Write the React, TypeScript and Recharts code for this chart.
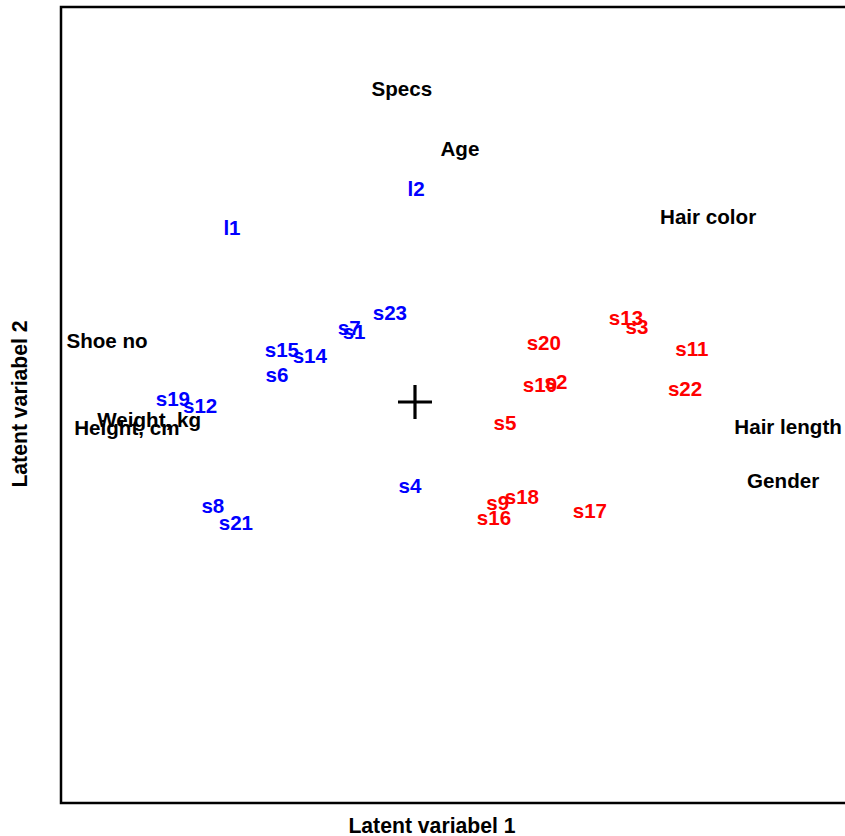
import { ScatterChart, Scatter, XAxis, YAxis, ReferenceArea, Label } from 'recharts';

// loadings of the variables (black)
const variables = [
  { name: 'Specs', x: -0.037, y: 0.792 },
  { name: 'Age', x: 0.127, y: 0.641 },
  { name: 'Hair color', x: 0.828, y: 0.468 },
  { name: 'Shoe no', x: -0.870, y: 0.154 },
  { name: 'Weight, kg', x: -0.751, y: -0.046 },
  { name: 'Height, cm', x: -0.814, y: -0.066 },
  { name: 'Hair length', x: 1.054, y: -0.063 },
  { name: 'Gender', x: 1.040, y: -0.200 },
];

// scores, group 1 (blue)
const blueSamples = [
  { name: 'l1', x: -0.517, y: 0.441 },
  { name: 'l2', x: 0.003, y: 0.539 },
  { name: 's23', x: -0.071, y: 0.225 },
  { name: 's7', x: -0.186, y: 0.187 },
  { name: 's1', x: -0.172, y: 0.177 },
  { name: 's15', x: -0.376, y: 0.132 },
  { name: 's14', x: -0.297, y: 0.116 },
  { name: 's6', x: -0.390, y: 0.068 },
  { name: 's19', x: -0.684, y: 0.008 },
  { name: 's12', x: -0.607, y: -0.010 },
  { name: 's4', x: -0.014, y: -0.213 },
  { name: 's8', x: -0.571, y: -0.263 },
  { name: 's21', x: -0.506, y: -0.306 },
];

// scores, group 2 (red)
const redSamples = [
  { name: 's20', x: 0.364, y: 0.149 },
  { name: 's13', x: 0.596, y: 0.213 },
  { name: 's3', x: 0.627, y: 0.190 },
  { name: 's11', x: 0.782, y: 0.134 },
  { name: 's10', x: 0.353, y: 0.043 },
  { name: 's2', x: 0.398, y: 0.051 },
  { name: 's22', x: 0.763, y: 0.033 },
  { name: 's5', x: 0.254, y: -0.053 },
  { name: 's9', x: 0.234, y: -0.256 },
  { name: 's18', x: 0.302, y: -0.241 },
  { name: 's16', x: 0.223, y: -0.294 },
  { name: 's17', x: 0.494, y: -0.276 },
];

const origin = [{ name: 'origin', x: 0, y: 0 }];

const xDomain = [-1, 1.3136];
const yDomain = [-1.0152, 1];

const FONT = '"Liberation Sans", Arial, sans-serif';

const labelShape = (color: string) => (props: any) => (
  <text
    x={props.cx}
    y={props.cy}
    dy="0.35em"
    textAnchor="middle"
    fill={color}
    fontFamily={FONT}
    fontWeight="bold"
    fontSize={20.6}
  >
    {props.payload.name}
  </text>
);

const crossShape = (props: any) => (
  <g stroke="#000" strokeWidth={3.2}>
    <line x1={props.cx - 17} y1={props.cy} x2={props.cx + 17} y2={props.cy} />
    <line x1={props.cx} y1={props.cy - 17} x2={props.cx} y2={props.cy + 17} />
  </g>
);

export default function App() {
  return (
    <div style={{ position: 'absolute', left: 0, top: 0, width: 845, height: 836, overflow: 'hidden', background: '#fff' }}>
      <ScatterChart width={900} height={836} margin={{ top: 7, right: 20, bottom: 0, left: 0 }}>
        <XAxis
          type="number"
          dataKey="x"
          domain={xDomain}
          allowDataOverflow
          tick={false}
          tickLine={false}
          axisLine={false}
          height={33}
        >
          <Label
            content={() => (
              <text x={432} y={826} dy="0.35em" textAnchor="middle" fontFamily={FONT} fontWeight="bold" fontSize={21.2} fill="#000">
                Latent variabel 1
              </text>
            )}
          />
        </XAxis>
        <YAxis
          type="number"
          dataKey="y"
          domain={yDomain}
          allowDataOverflow
          tick={false}
          tickLine={false}
          axisLine={false}
          width={61}
        >
          <Label
            content={() => (
              <text x={20} y={404} dy="0.35em" textAnchor="middle" transform="rotate(-90 20 404)" fontFamily={FONT} fontWeight="bold" fontSize={21.2} fill="#000">
                Latent variabel 2
              </text>
            )}
          />
        </YAxis>
        <ReferenceArea
          x1={xDomain[0]}
          x2={xDomain[1]}
          y1={yDomain[0]}
          y2={yDomain[1]}
          fill="none"
          stroke="#000"
          strokeWidth={2.5}
          ifOverflow="visible"
        />
        <Scatter data={origin} shape={crossShape} isAnimationActive={false} />
        <Scatter data={variables} shape={labelShape('#000')} isAnimationActive={false} />
        <Scatter data={blueSamples} shape={labelShape('#0000ff')} isAnimationActive={false} />
        <Scatter data={redSamples} shape={labelShape('#ff0000')} isAnimationActive={false} />
      </ScatterChart>
    </div>
  );
}
